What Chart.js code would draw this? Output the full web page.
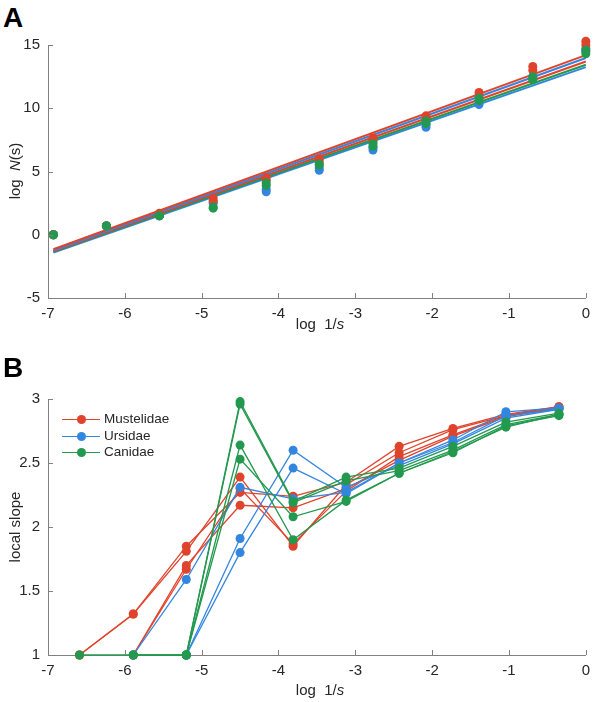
<!DOCTYPE html>
<html lang="en">
<head>
    <meta charset="UTF-8">
    <title>log N(s) and local slope</title>
    <script src="https://cdn.jsdelivr.net/npm/chart.js"></script>
    <style>
        body {
            margin: 0;
            background: #ffffff;
            font-family: 'Liberation Sans', Arial, Helvetica, sans-serif;
            color: #262626;
        }

        #wrap {
            position: relative;
            width: 597px;
            height: 702px;
            overflow: hidden;
        }

        .panel {
            position: absolute;
            left: 0;
        }

        .tag {
            position: absolute;
            font-weight: bold;
            font-size: 28px;
            line-height: 28px;
            color: #000;
        }

        /* box 120 x 18, centred on (left + 60, top + 9) */
        .axis-title {
            position: absolute;
            width: 120px;
            height: 18px;
            line-height: 18px;
            text-align: center;
            font-size: 15px;
            white-space: nowrap;
        }

        .axis-title.vertical {
            transform: rotate(-90deg);
        }

        #legend {
            position: absolute;
            left: 62px;
            top: 411px;
            font-size: 13.5px;
        }

        #legend .row {
            position: relative;
            height: 16.5px;
            line-height: 16.5px;
            padding-left: 42px;
        }

        #legend .swatch {
            position: absolute;
            left: 0;
            top: 8px;
            width: 38px;
            border-top: 1.5px solid;
        }

        #legend .dot {
            position: absolute;
            left: 14.5px;
            top: -5px;
            width: 9px;
            height: 9px;
            border-radius: 50%;
        }
    </style>
</head>
<body>
<div id="wrap">
    <div class="tag" style="left:3px; top:4px;">A</div>
    <canvas id="chartA" class="panel" style="top:0;" width="597" height="340"></canvas>
    <div class="axis-title vertical" style="left:-45px; top:162px;">log&nbsp; <i>N</i>(s)</div>
    <div class="axis-title" style="left:260px; top:315px;">log&nbsp; 1/<i>s</i></div>

    <div class="tag" style="left:3px; top:354px;">B</div>
    <canvas id="chartB" class="panel" style="top:340px;" width="597" height="362"></canvas>
    <div class="axis-title vertical" style="left:-45px; top:518px;">local slope</div>
    <div class="axis-title" style="left:260px; top:681px;">log&nbsp; 1/<i>s</i></div>

    <div id="legend"></div>
</div>

<script>
    // ---- panel A: log N(s) against log 1/s ----
    const xA = [-6.93, -6.24, -5.55, -4.85, -4.16, -3.47, -2.77, -2.08, -1.39, -0.69, 0];

    const canidaeA1 = [0, 0.7, 1.5, 2.1, 3.9, 5.5, 7.0, 8.8, 10.6, 12.25, 14.3];
    const canidaeA2 = [0, 0.7, 1.5, 2.2, 4.1, 5.6, 7.2, 9.0, 10.8, 12.5, 14.6];
    const mustelidaeA1 = [0, 0.7, 1.7, 2.9, 4.5, 6.0, 7.65, 9.4, 11.25, 13.3, 15.3];
    const mustelidaeA2 = [0, 0.7, 1.6, 2.7, 4.3, 5.8, 7.4, 9.2, 11.0, 13.0, 15.0];
    const ursidaeA1 = [0, 0.7, 1.5, 2.5, 3.4, 5.1, 6.7, 8.5, 10.3, 12.3, 14.5];
    const ursidaeA2 = [0, 0.7, 1.5, 2.6, 3.6, 5.3, 6.9, 8.7, 10.5, 12.5, 14.7];

    // fitted straight lines, value at x = -6.93 and at x = 0
    const fitX = [-6.93, 0];
    const fitStart = [-1.15, -1.25, -1.3, -1.35, -1.4];
    const fitEnd = [14.2, 13.97, 13.7, 13.44, 13.25];
    const fitFamily = ['Mustelidae', 'Ursidae', 'Mustelidae', 'Canidae', 'Ursidae'];

    const xTicks = [-7, -6, -5, -4, -3, -2, -1, 0];
    const yTicksA = [-5, 0, 5, 10, 15];

    // ---- panel B: local slope ----
    const xB = [-6.59, -5.89, -5.2, -4.5, -3.81, -3.12, -2.43, -1.73, -1.04, -0.35];

    const mustelidaeB = [
        [1.0, 1.32, 1.85, 2.27, 2.24, 2.35, 2.63, 2.77, 2.88, 2.94],
        [1.0, 1.32, 1.81, 2.39, 1.85, 2.33, 2.58, 2.76, 2.87, 2.94],
        [null, 1.0, 1.70, 2.17, 2.15, 2.30, 2.52, 2.71, 2.86, 2.93],
        [null, 1.0, 1.67, 2.30, 1.87, 2.28, 2.55, 2.72, 2.87, 2.93]
    ];
    const ursidaeB = [
        [null, 1.0, 1.59, 2.31, 2.22, 2.27, 2.50, 2.68, 2.90, 2.93],
        [null, null, 1.0, 1.91, 2.60, 2.31, 2.48, 2.65, 2.85, 2.92],
        [null, null, 1.0, 1.80, 2.46, 2.26, 2.50, 2.66, 2.87, 2.92]
    ];
    const canidaeB = [
        [1.0, 1.0, 1.0, 2.98, 2.20, 2.39, 2.46, 2.63, 2.82, 2.89],
        [null, 1.0, 1.0, 2.96, 2.19, 2.36, 2.44, 2.60, 2.80, 2.88],
        [null, null, 1.0, 2.64, 1.90, 2.21, 2.42, 2.59, 2.78, 2.88],
        [null, null, 1.0, 2.53, 2.08, 2.20, 2.42, 2.58, 2.79, 2.87]
    ];
    const yTicksB = [1, 1.5, 2, 2.5, 3];

    const families = ['Mustelidae', 'Ursidae', 'Canidae'];

    // colours
    const colors = {
        Mustelidae: '#e0432b',
        Ursidae: '#3386df',
        Canidae: '#22994e'
    };
    const axisColor = '#808080';
    const textColor = '#262626';
    const fontFamily = "'Liberation Sans', Arial, Helvetica, sans-serif";

    function toPoints(xs, ys) {
        const pts = [];
        ys.forEach((y, i) => {
            if (y !== null) pts.push({ x: xs[i], y: y });
        });
        return pts;
    }

    // draw the small tick marks pointing into the plot
    const inwardTicks = {
        id: 'inwardTicks',
        afterDraw(chart) {
            const ctx = chart.ctx;
            const area = chart.chartArea;
            const xs = chart.scales.x;
            const ys = chart.scales.y;
            ctx.save();
            ctx.strokeStyle = axisColor;
            ctx.lineWidth = 1;
            xs.ticks.forEach(t => {
                const px = Math.round(xs.getPixelForValue(t.value)) + 0.5;
                ctx.beginPath();
                ctx.moveTo(px, area.bottom);
                ctx.lineTo(px, area.bottom - 5);
                ctx.stroke();
            });
            ys.ticks.forEach(t => {
                const py = Math.round(ys.getPixelForValue(t.value)) + 0.5;
                ctx.beginPath();
                ctx.moveTo(area.left, py);
                ctx.lineTo(area.left + 5, py);
                ctx.stroke();
            });
            ctx.restore();
        }
    };

    function axisOptions(min, max, ticks, fixedSize, isX) {
        return {
            type: 'linear',
            min: min,
            max: max,
            afterBuildTicks: scale => {
                scale.ticks = ticks.map(v => ({ value: v }));
            },
            ticks: {
                color: textColor,
                font: { family: fontFamily, size: 15 },
                padding: isX ? 7 : 8,
                callback: v => String(v)
            },
            grid: { drawOnChartArea: false, drawTicks: false },
            border: { display: true, color: axisColor, width: 1 },
            afterFit: scale => {
                if (isX) scale.height = fixedSize; else scale.width = fixedSize;
            }
        };
    }

    // ---- chart A ----
    const dotStyle = c => ({
        type: 'scatter',
        backgroundColor: c,
        borderColor: c,
        pointRadius: 4.5,
        pointBorderWidth: 0,
        showLine: false,
        clip: false
    });

    // first dataset is drawn on top
    const dataA = [];
    [
        ['Canidae', canidaeA1], ['Canidae', canidaeA2],
        ['Mustelidae', mustelidaeA1], ['Mustelidae', mustelidaeA2],
        ['Ursidae', ursidaeA1], ['Ursidae', ursidaeA2]
    ].forEach(([fam, ys]) => {
        dataA.push(Object.assign({ label: fam, data: toPoints(xA, ys) }, dotStyle(colors[fam])));
    });
    fitStart.forEach((y0, i) => {
        dataA.push({
            type: 'scatter',
            label: 'fit ' + fitFamily[i],
            data: toPoints(fitX, [y0, fitEnd[i]]),
            borderColor: colors[fitFamily[i]],
            borderWidth: 2,
            pointRadius: 0,
            showLine: true,
            clip: false
        });
    });

    new Chart(document.getElementById('chartA').getContext('2d'), {
        type: 'scatter',
        data: { datasets: dataA },
        options: {
            responsive: false,
            animation: false,
            layout: { padding: { top: 45, right: 6, left: 0, bottom: 0 } },
            plugins: { legend: { display: false }, tooltip: { enabled: false } },
            scales: {
                x: axisOptions(-7, 0, xTicks, 42, true),
                y: axisOptions(-5, 15, yTicksA, 48, false)
            }
        },
        plugins: [inwardTicks]
    });

    // ---- chart B ----
    // Canidae on top, then Ursidae, then Mustelidae
    const dataB = [];
    [['Canidae', canidaeB], ['Ursidae', ursidaeB], ['Mustelidae', mustelidaeB]].forEach(([fam, rows]) => {
        rows.forEach(ys => {
            dataB.push({
                type: 'line',
                label: fam,
                data: toPoints(xB, ys),
                borderColor: colors[fam],
                backgroundColor: colors[fam],
                borderWidth: 1.3,
                pointRadius: 4.5,
                pointBorderWidth: 0,
                tension: 0,
                clip: false
            });
        });
    });

    new Chart(document.getElementById('chartB').getContext('2d'), {
        type: 'line',
        data: { datasets: dataB },
        options: {
            responsive: false,
            animation: false,
            layout: { padding: { top: 59, right: 6, left: 0, bottom: 0 } },
            plugins: { legend: { display: false }, tooltip: { enabled: false } },
            scales: {
                x: axisOptions(-7, 0, xTicks, 47, true),
                y: axisOptions(1, 3, yTicksB, 48, false)
            }
        },
        plugins: [inwardTicks]
    });

    // legend for panel B
    const legend = document.getElementById('legend');
    families.forEach(fam => {
        const row = document.createElement('div');
        row.className = 'row';
        row.innerHTML = '<span class="swatch" style="border-color:' + colors[fam] + '">' +
            '<span class="dot" style="background:' + colors[fam] + '"></span></span>' + fam;
        legend.appendChild(row);
    });
</script>
</body>
</html>
